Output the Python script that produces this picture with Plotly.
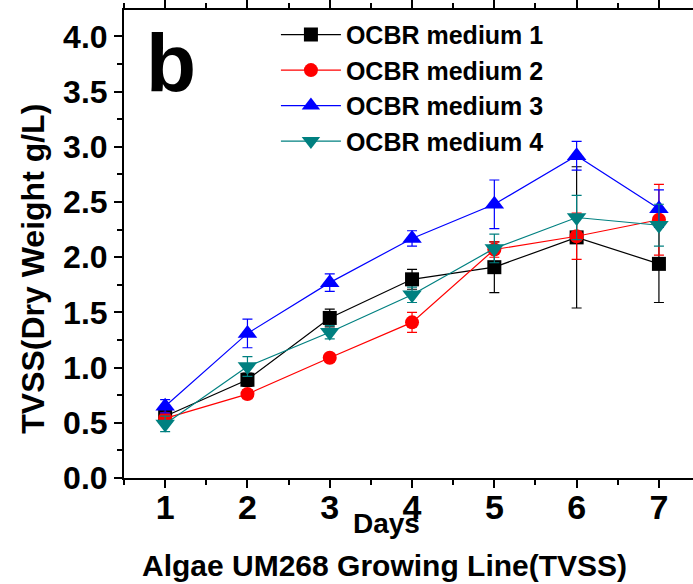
import plotly.graph_objects as go

days = [1, 2, 3, 4, 5, 6, 7]
series_names = ["OCBR medium 1", "OCBR medium 2", "OCBR medium 3", "OCBR medium 4"]
m1 = [0.56, 0.89, 1.45, 1.80, 1.91, 2.18, 1.94]
m1_err = [0.03, 0.06, 0.08, 0.09, 0.23, 0.64, 0.35]
m2 = [0.54, 0.76, 1.09, 1.41, 2.07, 2.19, 2.34]
m2_err = [0.05, 0.04, 0.02, 0.09, 0.07, 0.21, 0.32]
m3 = [0.65, 1.31, 1.77, 2.17, 2.48, 2.92, 2.44]
m3_err = [0.06, 0.13, 0.08, 0.07, 0.22, 0.13, 0.17]
m4 = [0.49, 1.01, 1.32, 1.66, 2.08, 2.36, 2.29]
m4_err = [0.07, 0.09, 0.06, 0.07, 0.13, 0.20, 0.19]

values = [m1, m2, m3, m4]
errors = [m1_err, m2_err, m3_err, m4_err]
colors = ["#000000", "#FF0000", "#0000FF", "#008080"]
symbols = ["square", "circle", "triangle-up", "triangle-down"]
sizes = [14, 14, 17, 17]

FONT = "Liberation Sans, Arial, Helvetica, sans-serif"

fig = go.Figure()
for name, v, e, c, s, sz in zip(series_names, values, errors, colors, symbols, sizes):
    fig.add_trace(go.Scatter(
        x=days, y=v, name=name, mode="lines+markers",
        line=dict(color=c, width=1.2),
        marker=dict(symbol=s, size=sz, color=c),
        error_y=dict(type="data", array=e, visible=True, color=c, thickness=1.2, width=5),
    ))

fig.update_layout(
    width=693, height=584,
    margin=dict(l=124, r=0, t=10, b=106),
    paper_bgcolor="white", plot_bgcolor="white",
    font=dict(family=FONT, color="black"),
    showlegend=True,
    legend=dict(
        x=0.267, y=0.996, xanchor="left", yanchor="top",
        font=dict(family=FONT, size=25, color="black", weight="bold"),
        bgcolor="rgba(0,0,0,0)", borderwidth=0,
        tracegroupgap=0, itemwidth=60,
    ),
    xaxis=dict(
        range=[0.5, 7.414], tickmode="array", tickvals=days, ticktext=[str(d) for d in days],
        showgrid=False, zeroline=False,
        showline=True, linecolor="black", linewidth=2, mirror="ticks",
        ticks="outside", ticklen=8, tickwidth=2, tickcolor="black",
        minor=dict(dtick=0.5, tick0=0.5, ticks="outside", ticklen=5, tickwidth=2, tickcolor="black"),
        tickfont=dict(family=FONT, size=34, color="black", weight="bold"),
        ticklabelstandoff=-10,
    ),
    yaxis=dict(
        range=[0, 4.24], tickmode="linear", tick0=0, dtick=0.5, tickformat=".1f",
        showgrid=False, zeroline=False,
        showline=True, linecolor="black", linewidth=2, mirror=False,
        ticks="outside", ticklen=8, tickwidth=2, tickcolor="black",
        minor=dict(dtick=0.25, ticks="outside", ticklen=5, tickwidth=2, tickcolor="black"),
        tickfont=dict(family=FONT, size=32, color="black", weight="bold"),
    ),
    annotations=[
        dict(text="TVSS(Dry Weight g/L)", textangle=-90, xref="paper", yref="paper",
             x=-0.16, y=0.447, xanchor="center", yanchor="middle", showarrow=False,
             font=dict(family=FONT, size=32, color="black", weight="bold")),
        dict(text="Days", xref="paper", yref="paper", x=0.4607, y=-0.098,
             xanchor="center", yanchor="middle", showarrow=False,
             font=dict(family=FONT, size=28, color="black", weight="bold")),
        dict(text="Algae UM268 Growing Line(TVSS)", xref="paper", yref="paper", x=0.457, y=-0.186,
             xanchor="center", yanchor="middle", showarrow=False,
             font=dict(family=FONT, size=30, color="black", weight="bold")),
        dict(text="b", xref="paper", yref="paper", x=0.083, y=0.888,
             xanchor="center", yanchor="middle", showarrow=False,
             font=dict(family=FONT, size=82, color="black", weight="bold")),
    ],
)

fig.write_html("out.html")
